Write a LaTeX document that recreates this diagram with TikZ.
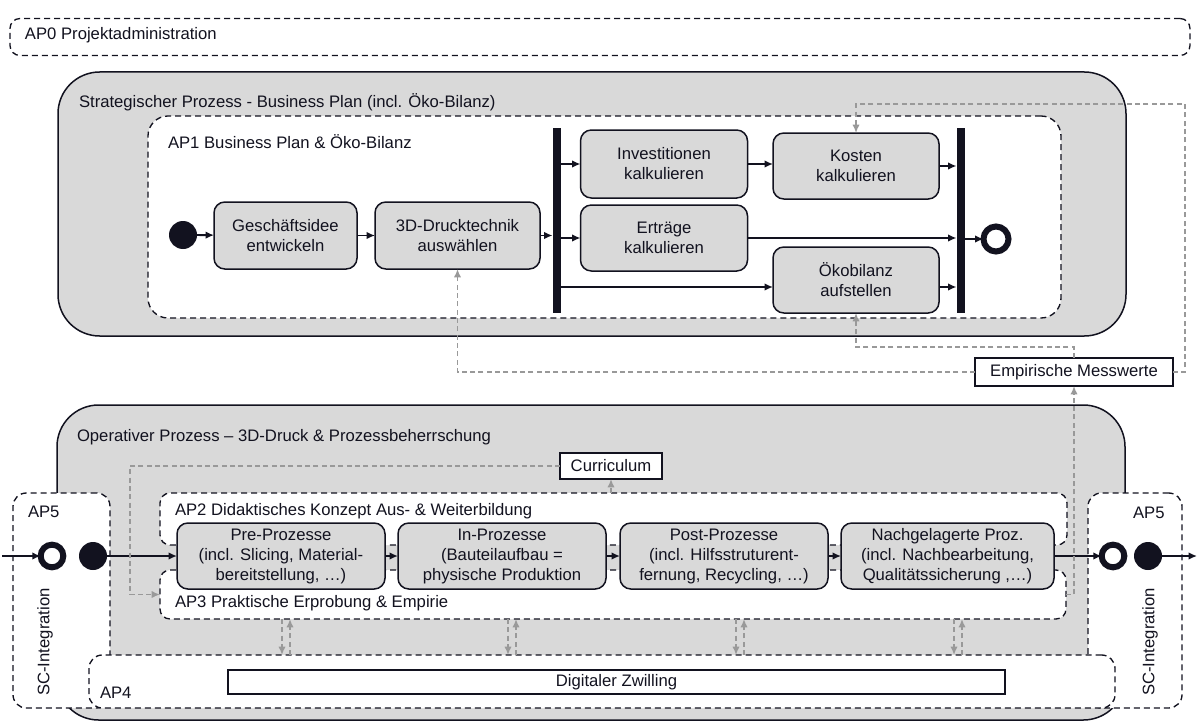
\documentclass[tikz,border=0pt]{standalone}
\usepackage{fontspec}
\setmainfont{Liberation Sans}
\usetikzlibrary{arrows.meta}
\definecolor{BoxClr}{rgb}{0.85,0.85,0.85}
\definecolor{LineClr}{rgb}{0.07,0.07,0.12}
\definecolor{FbClr}{rgb}{0.6,0.6,0.6}

\begin{document}
\begin{tikzpicture}[x=0.6pt,y=-0.6pt,font=\fontsize{10}{12}\selectfont,
  every node/.style={inner sep=0pt,outer sep=0pt,text=LineClr},
  sz/.style 2 args={minimum width=#1*0.6pt,minimum height=#2*0.6pt},
  area/.style={draw=LineClr,line width=0.9pt,fill=BoxClr,rounded corners=25pt},
  wp/.style={draw=LineClr,line width=0.8pt,fill=white,dash pattern=on 3.6pt off 2.4pt,rounded corners=#1},
  proc/.style={draw=LineClr,line width=0.9pt,fill=BoxClr,rounded corners=6.5pt,align=center},
  tag/.style={draw=LineClr,line width=0.9pt,fill=white,align=center},
  bar/.style={fill=LineClr},
  startdot/.style={circle,fill=LineClr,minimum size=16.8pt},
  ring/.style={circle,draw=LineClr,line width=3.6pt,fill=white,minimum size=13.6pt},
  flow/.style={draw=LineClr,line width=1.1pt,-{Latex[length=5pt,width=4.5pt]}},
  fb/.style={draw=FbClr,line width=1pt,dash pattern=on 3pt off 2pt,-{Latex[length=5pt,width=4.4pt]}},
  lbl/.style={anchor=west}]
\useasboundingbox (0,0) rectangle (1198,724);

\node[wp=6pt,sz={1180}{37}] (ap0) at (600,37) {};
\node[lbl] (ap0t) at (25,35) {AP0 Projektadministration};

\node[area,sz={1068}{264}] (strat) at (592,204) {};
\node[lbl] (stratt) at (79,102) {Strategischer Prozess - Business Plan (incl. Öko-Bilanz)};
\node[wp=12pt,sz={913}{202}] (ap1) at (604.5,217) {};
\node[lbl] (ap1t) at (168,142) {AP1 Business Plan \& Öko-Bilanz};

\node[startdot] (start) at (183,235) {};
\node[proc,sz={143}{67}] (gesch) at (285.5,235.5) {Geschäftsidee\\entwickeln};
\node[proc,sz={165}{67}] (druck) at (457.5,235.5) {3D-Drucktechnik\\auswählen};
\node[bar,sz={8}{185}] (fork) at (556.5,220.5) {};
\node[proc,sz={167}{68}] (invest) at (664,164) {Investitionen\\kalkulieren};
\node[proc,sz={166}{66}] (kosten) at (856,166) {Kosten\\kalkulieren};
\node[proc,sz={167}{66}] (ertrag) at (664,238) {Erträge\\kalkulieren};
\node[proc,sz={166}{66}] (oeko) at (856,280) {Ökobilanz\\aufstellen};
\node[bar,sz={8}{185}] (join) at (960.5,220.5) {};
\node[ring,minimum size=15pt] (stop) at (996,239) {};

\draw[flow] (start) -- (gesch);
\draw[flow] (gesch) -- (druck);
\draw[flow] (druck.east) -- (druck.east -| fork.west);
\draw[flow] (invest.west -| fork.east) -- (invest.west);
\draw[flow] (invest.east) -- (invest.east -| kosten.west);
\draw[flow] (kosten.east) -- (kosten.east -| join.west);
\draw[flow] (ertrag.west -| fork.east) -- (ertrag.west);
\draw[flow] (ertrag.east) -- (ertrag.east -| join.west);
\draw[flow] ([yshift=-4.2pt]oeko.west -| fork.east) -- ([yshift=-4.2pt]oeko.west);
\draw[flow] ([yshift=-4.2pt]oeko.east) -- ([yshift=-4.2pt]oeko.east -| join.west);
\draw[flow] (join.east |- stop) -- (stop);

\node[tag,sz={198}{28}] (emp) at (1074,372) {Empirische Messwerte};

\node[area,sz={1068}{315}] (oper) at (591,562.5) {};
\node[lbl] (opert) at (77,437) {Operativer Prozess – 3D-Druck \& Prozessbeherrschung};
\node[tag,sz={102}{26}] (cur) at (611,466) {Curriculum};
\node[wp=6pt,sz={907}{52}] (ap2) at (613.5,519) {};
\node[lbl] (ap2t) at (175,511) {AP2 Didaktisches Konzept Aus- \& Weiterbildung};
\node[wp=6pt,sz={906}{49}] (ap3) at (613,594.5) {};
\node[lbl] (ap3t) at (175,603) {AP3 Praktische Erprobung \& Empirie};

\node[wp=8pt,sz={97}{215}] (ap5l) at (61.5,600.5) {};
\node[wp=8pt,sz={94}{215}] (ap5r) at (1135,600.5) {};
\node[lbl] (ap5lt) at (28,512) {AP5};
\node[lbl] (ap5rt) at (1133,513) {AP5};
\node[rotate=90] (scl) at (45,642) {SC-Integration};
\node[rotate=90] (scr) at (1150,642) {SC-Integration};
\node[wp=8pt,sz={1026}{53}] (ap4) at (602,681.5) {};
\node[lbl] (ap4t) at (100,693) {AP4};
\node[tag,sz={777}{24}] (twin) at (616.5,682) {Digitaler Zwilling};

\node[ring] (inring) at (52,556) {};
\node[startdot] (indot) at (93,556) {};
\node[ring] (outring) at (1113,556) {};
\node[startdot] (outdot) at (1148,556) {};
\coordinate (inl) at (2,556);
\coordinate (outr) at (1197,556);

\node[proc,sz={208}{66}] (pre) at (281,556) {Pre-Prozesse\\(incl. Slicing, Material-\\bereitstellung, …)};
\node[proc,sz={208}{66}] (inp) at (502,556) {In-Prozesse\\(Bauteilaufbau =\\physische Produktion};
\node[proc,sz={208}{66}] (post) at (724,556) {Post-Prozesse\\(incl. Hilfsstruturent-\\fernung, Recycling, …)};
\node[proc,sz={213}{66}] (nach) at (947.5,556) {Nachgelagerte Proz.\\(incl. Nachbearbeitung,\\Qualitätssicherung ,…)};

\draw[flow] (inl) -- (inring);
\draw[flow] (indot) -- (pre);
\draw[flow] (pre) -- (inp);
\draw[flow] (inp) -- (post);
\draw[flow] (post) -- (nach);
\draw[flow] (nach) -- (outring);
\draw[flow] (outdot) -- (outr);

\draw[fb] (emp.west) -| (druck.south);
\draw[fb] (emp.north) -- ++(0,-11) -| (oeko.south);
\draw[fb] (emp.east) -- ++(12,0) |- ([yshift=17.4pt]kosten.north) -- (kosten.north);
\draw[fb] (ap3.east) -| (emp.south);
\draw[fb] (cur.south |- ap2.north) -- (cur.south);
\draw[fb] (cur.west) -| ([xshift=-18pt]ap3.west) -- (ap3.west);
\foreach \x in {286,512,740,958}{
  \coordinate (dl) at (\x-4,0);
  \coordinate (dr) at (\x+4,0);
  \draw[fb] (dl |- ap3.south) -- (dl |- ap4.north);
  \draw[fb] (dr |- ap4.north) -- (dr |- ap3.south);
}
\end{tikzpicture}
\end{document}
